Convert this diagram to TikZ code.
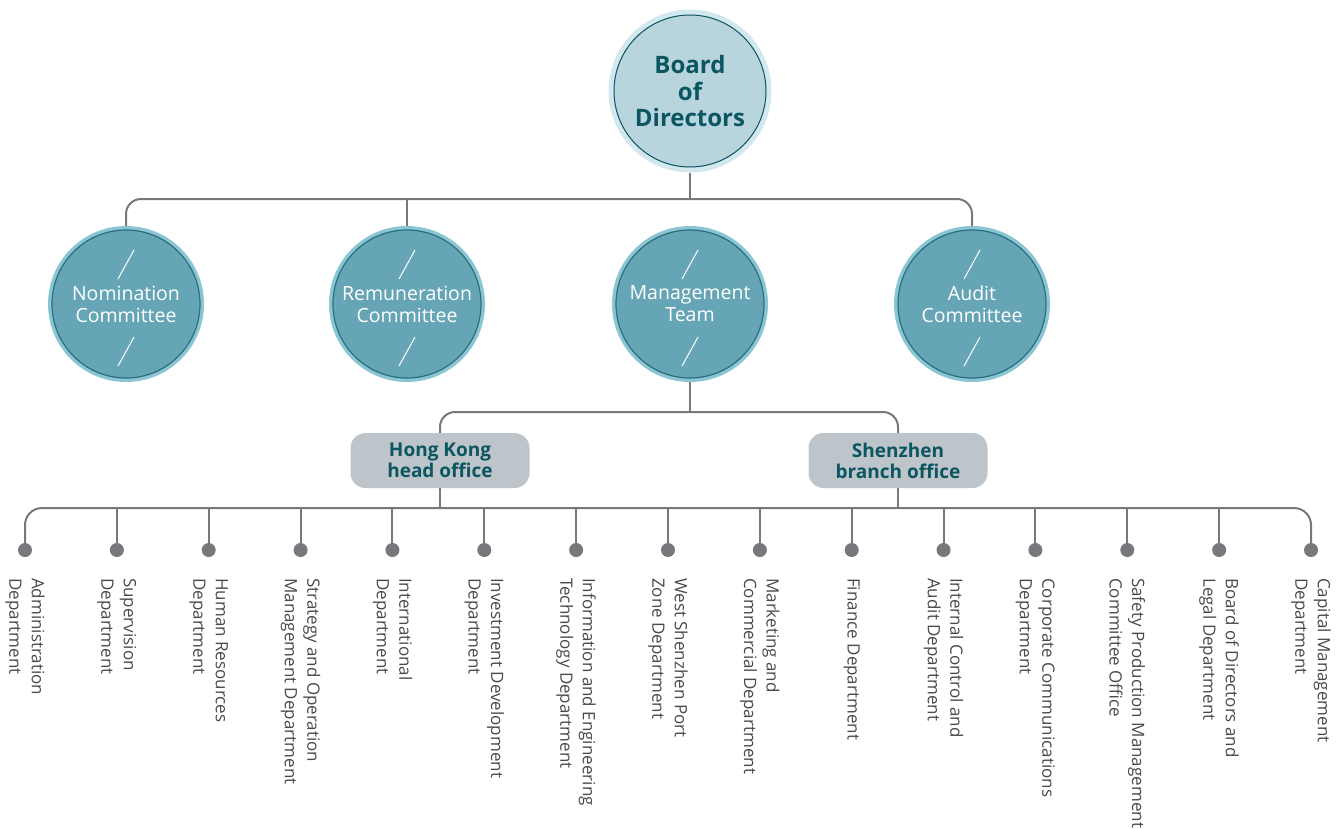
\documentclass[tikz,border=0pt]{standalone}
\usepackage{fontspec}
\usepackage{xcolor}
\setmainfont{Open Sans}
\usetikzlibrary{positioning}

\definecolor{boardfill}{HTML}{B8D5DE}
\definecolor{boardring}{HTML}{D3E7EE}
\definecolor{darkteal}{HTML}{0B5661}
\definecolor{comfill}{HTML}{66A5B6}
\definecolor{comring}{HTML}{8AC5D3}
\definecolor{comline}{HTML}{2B6E7C}
\definecolor{officefill}{HTML}{BDC4CA}
\definecolor{linkgray}{HTML}{77787C}
\definecolor{depttext}{HTML}{4A4A4A}

\tikzset{
  board/.style={circle, minimum size=158pt, inner sep=0pt, fill=boardfill, draw=boardring,
    line width=5pt, align=center, text=darkteal,
    font=\fontsize{24}{26.5}\selectfont\bfseries},
  committee/.style={circle, minimum size=152pt, inner sep=0pt, fill=comfill, draw=comring,
    line width=4pt, align=center, text=white,
    font=\fontsize{19.5}{22}\selectfont},
  office/.style={rounded corners=15pt, minimum width=179pt, minimum height=55pt,
    fill=officefill, align=center, text=darkteal,
    font=\fontsize{19}{21}\selectfont\bfseries},
  link/.style={draw=linkgray, line width=2pt},
  dot/.style={circle, fill=linkgray, minimum size=14pt, inner sep=0pt},
  dept/.style={rotate=-90, anchor=west, align=left, inner sep=0pt, text=depttext,
    font=\fontsize{17}{22.5}\selectfont},
  slash/.style={draw=white, line width=1pt}
}

\begin{document}
\begin{tikzpicture}[x=1pt, y=-1pt]
\useasboundingbox (0,0) rectangle (1344,828);

% board and committees
\node[board] (board) at (690,91) {Board\\of\\Directors};
\draw[darkteal, line width=1pt] (board.center) circle (76pt);

\foreach \x/\name/\txt in {126/nom/{Nomination\\Committee},
                           407/rem/{Remuneration\\Committee},
                           690/mgmt/{Management\\Team},
                           972/audit/{Audit\\Committee}}
{
  \node[committee] (\name) at (\x,304) {\txt};
  \draw[comline, line width=1.2pt] (\name.center) circle (74pt);
  \draw[slash] ([shift={(8,-54)}]\name.center) -- ([shift={(-8,-25)}]\name.center);
  \draw[slash] ([shift={(8,33)}]\name.center) -- ([shift={(-8,62)}]\name.center);
}

\coordinate (bus1) at (690,199);
\draw[link] (board.south) -- (bus1);
\draw[link, rounded corners=15pt] (nom.north) |- (bus1) -| (audit.north);
\draw[link] (rem.north) -- (rem.north |- bus1);

% offices
\node[office] (hk) at (440,460.5) {Hong Kong\\head office};
\node[office] (sz) at (898,460.5) {Shenzhen\\branch office};

\coordinate (bus2) at (690,412);
\draw[link] (mgmt.south) -- (bus2);
\draw[link, rounded corners=15pt] (hk.north) |- (bus2) -| (sz.north);

% departments
\foreach \i/\txt in {1/{Administration\\Department},
                     2/{Supervision\\Department},
                     3/{Human Resources\\Department},
                     4/{Strategy and Operation\\Management Department},
                     5/{International\\Department},
                     6/{Investment Development\\Department},
                     7/{Information and Engineering\\Technology Department},
                     8/{West Shenzhen Port\\Zone Department},
                     9/{Marketing and\\Commercial Department},
                     10/{Finance Department},
                     11/{Internal Control and\\Audit Department},
                     12/{Corporate Communications\\Department},
                     13/{Safety Production Management\\Committee Office},
                     14/{Board of Directors and\\Legal Department},
                     15/{Capital Management\\Department}}
{
  \pgfmathsetmacro{\x}{25+(\i-1)*91.857}
  \node[dot] (d\i) at (\x,550) {};
  \node[dept] (t\i) at (\x,578) {\txt};
}

\coordinate (bus3) at (440,508);
\draw[link, rounded corners=17pt] (d1) |- (bus3) -| (d15);
\foreach \i in {2,...,14}
  \draw[link] (d\i) -- (d\i |- bus3);
\draw[link] (hk.south) -- (bus3);
\draw[link] (sz.south) -- (sz.south |- bus3);
\end{tikzpicture}
\end{document}
